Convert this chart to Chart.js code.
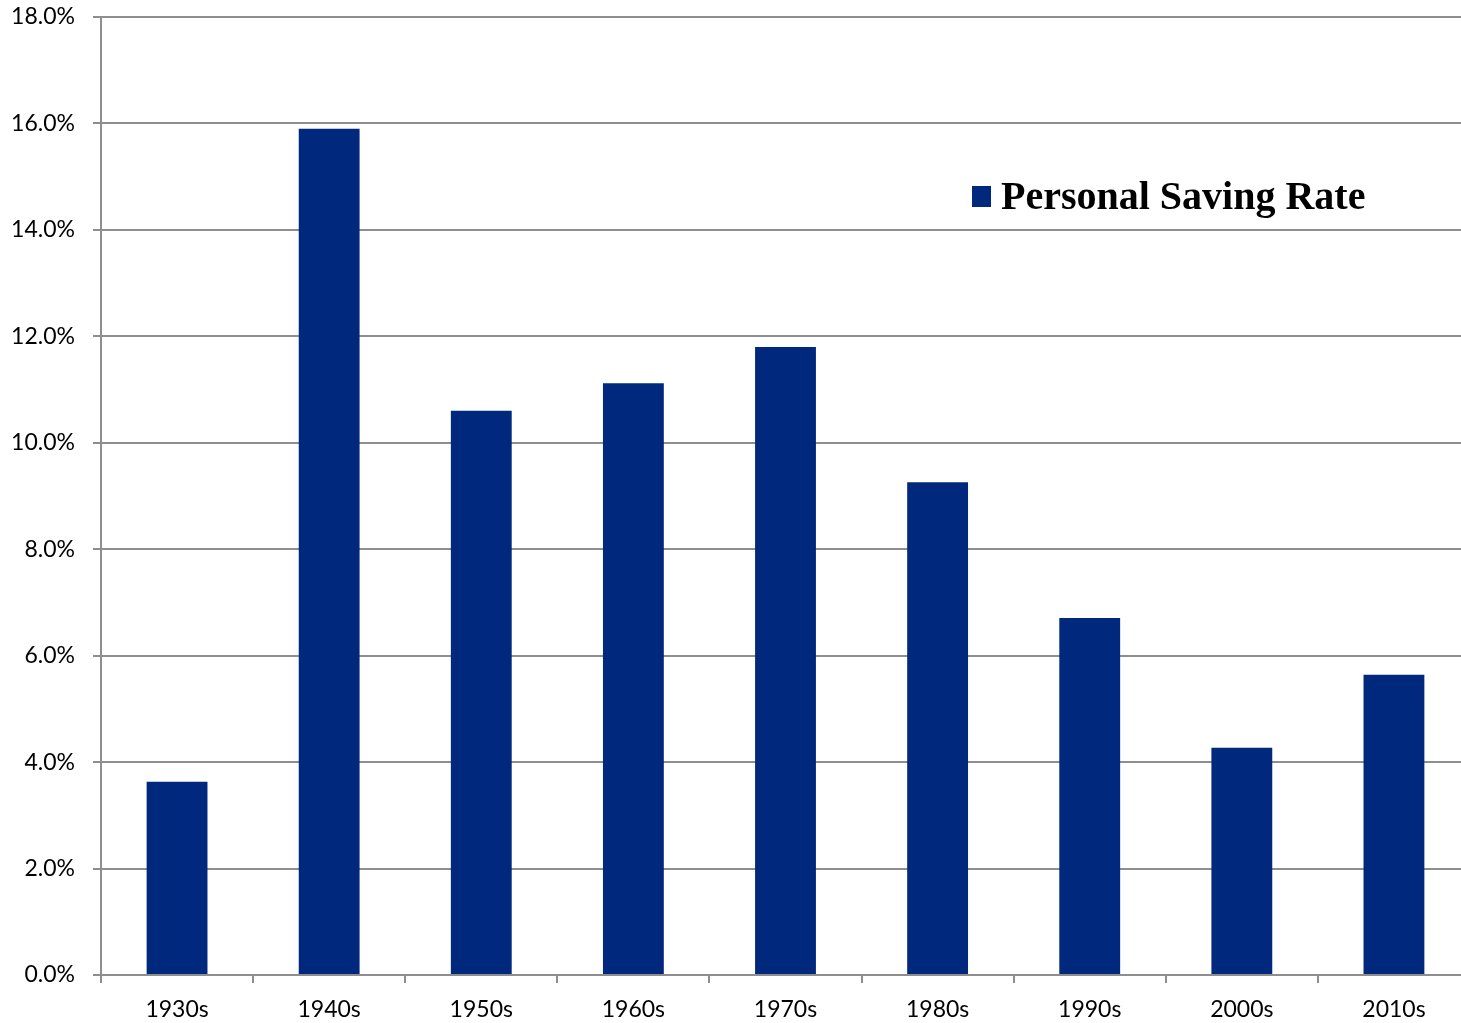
<!DOCTYPE html>
<html>
<head>
<meta charset="utf-8">
<script src="https://cdn.jsdelivr.net/npm/chart.js@4.4.1/dist/chart.umd.min.js"></script>
<style>
  html, body { margin: 0; padding: 0; background: #ffffff; overflow: hidden; }
  #wrap { position: relative; width: 1470px; height: 1023px; }
</style>
</head>
<body>
<div id="wrap"><canvas id="c"></canvas></div>
<script>
// Average personal saving rate by decade
const decades = ['1930s', '1940s', '1950s', '1960s', '1970s', '1980s', '1990s', '2000s', '2010s'];
const savingRate = [3.63, 15.9, 10.6, 11.12, 11.8, 9.26, 6.71, 4.27, 5.64];
const yTicks = [0, 2, 4, 6, 8, 10, 12, 14, 16, 18];
const seriesName = 'Personal Saving Rate';

const barColor = '#00287c';
const gridColor = '#8e8e8e';
const tickFont = { family: 'Lato', size: 23 };

// Legend drawn inside the plot area, upper right
const insideLegend = {
  id: 'insideLegend',
  afterDraw(chart) {
    const { ctx, chartArea } = chart;
    const ds = chart.data.datasets[0];
    const x = chartArea.left + 871;
    const y = 196;
    ctx.save();
    ctx.fillStyle = ds.backgroundColor;
    ctx.fillRect(x, y - 10, 19, 21);
    ctx.fillStyle = '#000';
    ctx.font = 'bold 40px "Liberation Serif"';
    ctx.textBaseline = 'middle';
    ctx.textAlign = 'left';
    ctx.fillText(ds.label, x + 29, y + 3);
    ctx.restore();
  }
};

new Chart(document.getElementById('c'), {
  type: 'bar',
  data: {
    labels: decades,
    datasets: [{
      label: seriesName,
      data: savingRate,
      backgroundColor: barColor,
      borderWidth: 0,
      categoryPercentage: 0.4,
      barPercentage: 1.0
    }]
  },
  options: {
    responsive: true,
    maintainAspectRatio: false,
    animation: false,
    layout: { padding: { top: 17, right: 0, bottom: 0, left: 0 } },
    plugins: { legend: { display: false }, tooltip: { enabled: false } },
    scales: {
      x: {
        offset: true,
        grid: {
          offset: true,
          drawOnChartArea: false,
          drawTicks: true,
          tickLength: 8,
          color: gridColor,
          lineWidth: 2
        },
        border: { display: true, color: gridColor, width: 2 },
        ticks: { color: '#000', font: tickFont, padding: 13, maxRotation: 0 },
        afterFit(scale) {
          scale.height = 48;
          scale.paddingLeft = 0;
          scale.paddingRight = 0;
        }
      },
      y: {
        min: 0,
        max: 18,
        afterBuildTicks(scale) { scale.ticks = yTicks.map(v => ({ value: v })); },
        grid: {
          color: gridColor,
          lineWidth: 2,
          drawTicks: true,
          tickLength: 8
        },
        border: { display: true, color: gridColor, width: 2 },
        ticks: {
          color: '#000',
          font: tickFont,
          padding: 18,
          callback: v => v.toFixed(1) + '%'
        },
        afterFit(scale) {
          scale.width = 101;
          scale.paddingTop = 0;
          scale.paddingBottom = 0;
        }
      }
    }
  },
  plugins: [insideLegend]
});
</script>
</body>
</html>
